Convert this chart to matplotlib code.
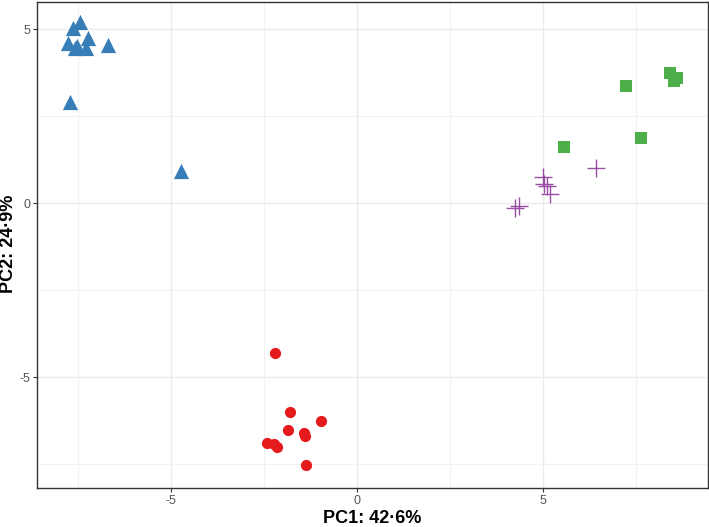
import matplotlib
matplotlib.use("Agg")
import matplotlib.pyplot as plt
import numpy as np

# PCA scores, one group per colour
blue_x = [-7.45, -7.63, -7.23, -7.77, -7.58, -7.53, -7.28, -6.69, -7.72, -4.73]
blue_y = [5.20, 5.03, 4.74, 4.60, 4.45, 4.51, 4.45, 4.54, 2.90, 0.92]

green_x = [7.23, 8.41, 8.52, 8.60, 7.63, 5.56]
green_y = [3.36, 3.74, 3.51, 3.59, 1.87, 1.61]

purple_x = [6.42, 5.00, 5.03, 5.11, 5.19, 4.25, 4.35]
purple_y = [1.01, 0.75, 0.55, 0.49, 0.26, -0.14, -0.09]

red_x = [-2.20, -1.80, -0.97, -1.85, -1.42, -1.40, -2.42, -2.23, -2.15, -1.37]
red_y = [-4.31, -6.01, -6.26, -6.52, -6.61, -6.70, -6.90, -6.93, -7.01, -7.53]

plt.rcParams['font.family'] = ['Liberation Sans', 'DejaVu Sans']
plt.rcParams['axes.unicode_minus'] = False

fig = plt.figure(figsize=(7.09, 5.27), dpi=100)
ax = fig.add_axes([0.0522, 0.074, 0.9464, 0.9222])

ax.scatter(blue_x, blue_y, marker='^', s=120, color='#377EB8', zorder=3, linewidths=0)
ax.scatter(green_x, green_y, marker='s', s=70, color='#4DAF4A', zorder=3, linewidths=0)
ax.scatter(purple_x, purple_y, marker='+', s=170, color='#984EA3', zorder=3, linewidths=1.0)
ax.scatter(red_x, red_y, marker='o', s=65, color='#E41A1C', zorder=3, linewidths=0)

ax.set_xlim(-8.6, 9.44)
ax.set_ylim(-8.19, 5.78)
ax.set_xticks([-5, 0, 5])
ax.set_yticks([-5, 0, 5])
ax.set_xticks([-7.5, -2.5, 2.5, 7.5], minor=True)
ax.set_yticks([-7.5, -2.5, 2.5], minor=True)
ax.grid(True, which='major', color='#EBEBEB', linewidth=1.0, zorder=0)
ax.grid(True, which='minor', color='#F2F2F2', linewidth=0.8, zorder=0)
ax.set_axisbelow(True)

ax.tick_params(which='major', length=3, width=0.8, colors='#333333',
               labelsize=9, labelcolor='#555555', pad=2)
ax.tick_params(which='minor', length=0)
for sp in ax.spines.values():
    sp.set_color('#333333')
    sp.set_linewidth(1.0)

ax.set_xlabel('PC1: 42·6%', fontsize=13, fontweight='bold')
ax.xaxis.set_label_coords(0.5, -0.046)
fig.text(9 / 709, 1 - 244 / 527, 'PC2: 24·9%', rotation=90, fontsize=13,
         fontweight='bold', ha='center', va='center')

fig.savefig('out.png', dpi=100)
